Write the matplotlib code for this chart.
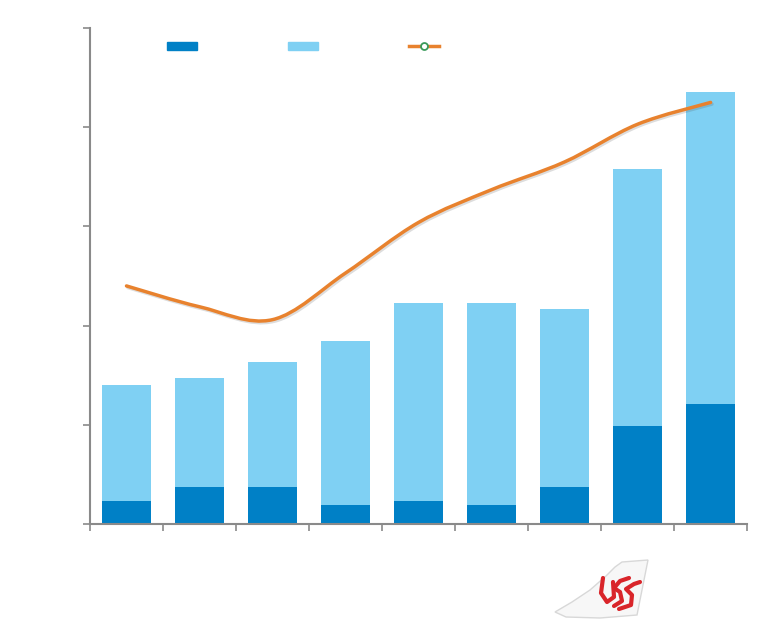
import matplotlib.pyplot as plt
import numpy as np
from matplotlib.path import Path
from matplotlib.patches import PathPatch, Polygon, Patch
from matplotlib.lines import Line2D
from matplotlib.transforms import IdentityTransform
import matplotlib.patheffects as pe

DARK = '#0080C6'
LIGHT = '#7FD0F3'
ORANGE = '#E8822E'

categories = np.arange(9)
dark_vals = [0.23, 0.37, 0.37, 0.19, 0.23, 0.19, 0.37, 0.99, 1.21]
total_vals = [1.40, 1.47, 1.63, 1.84, 2.23, 2.23, 2.17, 3.58, 4.35]
line_vals = [2.40, 2.19, 2.06, 2.53, 3.04, 3.37, 3.65, 4.03, 4.25]

light_vals = [t - d for t, d in zip(total_vals, dark_vals)]


def smooth_path(xs, ys):
    # catmull-rom through the points, drawn as bezier segments
    pts = np.column_stack([xs, ys]).astype(float)
    verts = [pts[0]]
    codes = [Path.MOVETO]
    n = len(pts)
    for i in range(n - 1):
        p0 = pts[i - 1] if i > 0 else pts[i]
        p1 = pts[i]
        p2 = pts[i + 1]
        p3 = pts[i + 2] if i + 2 < n else pts[i + 1]
        c1 = p1 + (p2 - p0) / 6
        c2 = p2 - (p3 - p1) / 6
        verts += [c1, c2, p2]
        codes += [Path.CURVE4] * 3
    return Path(verts, codes)


fig = plt.figure(figsize=(7.6, 6.34), dpi=100)
ax = fig.add_axes([0.1184, 0.1735, 0.8646, 0.7823])

ax.bar(categories, dark_vals, 0.67, color=DARK, zorder=2)
ax.bar(categories, light_vals, 0.67, bottom=dark_vals, color=LIGHT, zorder=2)

curve = PathPatch(smooth_path(categories, line_vals), facecolor='none', edgecolor=ORANGE,
                  lw=2.5, zorder=3, capstyle='round',
                  path_effects=[pe.SimpleLineShadow(offset=(1, -1.2), alpha=0.2, shadow_color='#555555'),
                                pe.Normal()])
ax.add_patch(curve)

ax.set_xlim(-0.5, 8.5)
ax.set_ylim(0, 5)
ax.set_xticks(np.arange(-0.5, 9, 1))
ax.set_yticks(np.arange(0, 6, 1))
ax.set_xticklabels([])
ax.set_yticklabels([])
for s in ['top', 'right']:
    ax.spines[s].set_visible(False)
for s in ['left', 'bottom']:
    ax.spines[s].set_color('#8a8a8a')
    ax.spines[s].set_linewidth(1.5)
ax.tick_params(axis='both', color='#8a8a8a', width=1.2, length=5, direction='out')

handles = [Patch(color=DARK), Patch(color=LIGHT),
           Line2D([], [], color=ORANGE, lw=2.5, marker='o', markersize=5,
                  markerfacecolor='white', markeredgecolor='#3a9a5a', markeredgewidth=1.3)]
ax.legend(handles, ['', '', ''], ncol=3, frameon=False, loc='upper left',
          bbox_to_anchor=(0.117, 0.976), handlelength=2.2, handleheight=0.6,
          columnspacing=6.5, handletextpad=0, borderpad=0, borderaxespad=0)

# tail logo, drawn in pixel coordinates
h = fig.get_figheight() * fig.dpi
tail_pts = [(555, 612), (572, 602), (590, 590), (606, 576), (615, 567), (622, 562),
            (648, 560), (637, 615), (600, 618), (566, 617)]
tail = Polygon([(x, h - y) for x, y in tail_pts], closed=True, transform=IdentityTransform(),
               facecolor='#f7f7f7', edgecolor='#d8d8d8', lw=1.0)
fig.patches.append(tail)
for vs in [[(603, 578), (601, 593), (607, 602), (614, 597), (613, 582)],
           [(614, 606), (622, 601), (620, 592), (614, 588), (620, 581), (629, 578)],
           [(619, 609), (631, 605), (632, 595), (626, 589), (634, 584), (640, 582)]]:
    xs = [v[0] for v in vs]
    ys = [h - v[1] for v in vs]
    fig.add_artist(Line2D(xs, ys, color='#d9252a', lw=3.0, transform=IdentityTransform(),
                          solid_capstyle='round', solid_joinstyle='round'))

fig.savefig('out.png', dpi=100)
